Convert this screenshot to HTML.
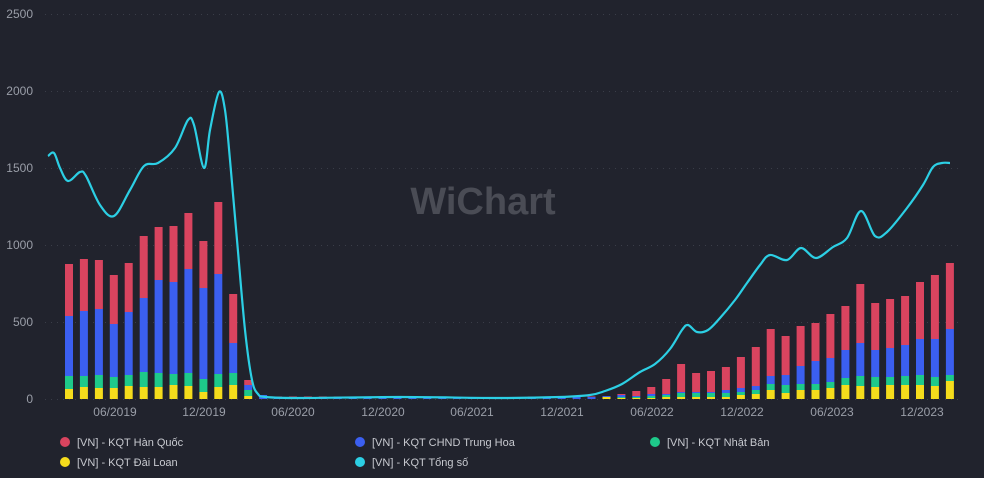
<!DOCTYPE html>
<html><head><meta charset="utf-8"><style>
html,body{margin:0;padding:0;background:#21232d;}
svg{display:block;font-family:"Liberation Sans",sans-serif;}
</style></head><body>
<svg id="s" width="984" height="478" viewBox="0 0 984 478">
<rect width="984" height="478" fill="#21232d"/>
<g stroke="#3a3d48" stroke-width="1" stroke-dasharray="1,5">
<line x1="45" x2="962" y1="14.5" y2="14.5"/><line x1="45" x2="962" y1="91.5" y2="91.5"/><line x1="45" x2="962" y1="168.5" y2="168.5"/><line x1="45" x2="962" y1="245.5" y2="245.5"/><line x1="45" x2="962" y1="322.5" y2="322.5"/><line x1="45" x2="962" y1="399.5" y2="399.5"/>
</g>
<g fill="#9a9ea8" font-size="12" text-anchor="end">
<text x="33" y="18">2500</text><text x="33" y="95">2000</text><text x="33" y="172">1500</text><text x="33" y="249">1000</text><text x="33" y="326">500</text><text x="33" y="403">0</text>
</g>
<g fill="#9a9ea8" font-size="12" text-anchor="middle">
<text x="115" y="416">06/2019</text><text x="204" y="416">12/2019</text><text x="293" y="416">06/2020</text><text x="383" y="416">12/2020</text><text x="472" y="416">06/2021</text><text x="562" y="416">12/2021</text><text x="652" y="416">06/2022</text><text x="742" y="416">12/2022</text><text x="832" y="416">06/2023</text><text x="922" y="416">12/2023</text>
</g>
<text x="483" y="214" text-anchor="middle" font-size="38" font-weight="bold" fill="#4a4c55">WiChart</text>
<g id="bars"></g>
<path id="ln" fill="none" stroke="#2ccfe4" stroke-width="2.2" stroke-linejoin="round"/>
<g font-size="11" fill="#c8cad0">
<circle cx="65" cy="442" r="5" fill="#d9445f"/><text x="77" y="446">[VN] - KQT Hàn Quốc</text>
<circle cx="360" cy="442" r="5" fill="#3b5ff0"/><text x="372" y="446">[VN] - KQT CHND Trung Hoa</text>
<circle cx="655" cy="442" r="5" fill="#1ec98a"/><text x="667" y="446">[VN] - KQT Nhật Bản</text>
<circle cx="65" cy="462" r="5" fill="#f5dc1c"/><text x="77" y="466">[VN] - KQT Đài Loan</text>
<circle cx="360" cy="462" r="5" fill="#2ccfe4"/><text x="372" y="466">[VN] - KQT Tổng số</text>
</g>
</svg>
<script>
var B=[[389,376,316,264],[387,376,311,259],[388,375,309,260],[388,377,324,275],[386,375,312,263],[387,372,298,236],[387,373,280,227],[385,374,282,226],[386,373,269,213],[392,379,288,241],[387,374,274,202],[385,373,343,294],[396,390,385,380],[399,399,395,395]];
for(var i=14;i<36;i++){var h=(i<20||i>30)?2:1.5;B.push([399,399,399-h,399-h-0.5]);}
B.push([397,397,396,396],[398,397,395,394],[398,397,396,391],[398,396,394,387],[397,395,394,379],[397,393,392,364],[397,393,392,373],[397,393,392,371],[397,393,390,367],[395,392,388,357],[394,390,386,347],[390,384,376,329],[393,385,375,336],[390,384,366,326],[390,384,361,323],[388,382,358,314],[385,378,350,306],[386,376,343,284],[387,377,350,303],[385,377,348,299],[385,376,345,296],[385,375,339,282],[386,377,339,275],[381,375,329,263]);
var C=["#f5dc1c","#1ec98a","#3b5ff0","#d9445f"],g="";
for(var i=0;i<B.length;i++){var x=69+i*14.93-4,b=B[i],prev=399;
 var top=b[3];
 for(var k=0;k<4;k++){var t=b[k];if(prev-t>0.2)g+='<rect x="'+x.toFixed(1)+'" y="'+t+'" width="8" height="'+(prev-t)+'" fill="'+C[k]+'"/>';prev=Math.min(prev,t);}
 if(399-top>0.5)g+='<rect x="'+(x+0.5).toFixed(1)+'" y="'+(top+0.5)+'" width="7" height="'+(399-top-0.5)+'" fill="none" stroke="#e6c9d0" stroke-width="1" opacity="0.8"/>';
}
document.getElementById("bars").innerHTML=g;
var P=[[48,156],[54,153],[60,168],[68,181],[80,172],[86,176],[100,205],[114,216],[130,190],[144,166],[158,163],[175,148],[188,120],[194,125],[204,168],[210,130],[219,92],[225,110],[230,160],[237,240],[245,330],[252,380],[258,394],[266,397],[300,398],[400,397],[500,398],[560,397],[590,395],[605,391],[622,384],[640,372],[655,364],[670,349],[682,330],[688,325],[697,332],[708,330],[720,318],[735,300],[747,283],[760,265],[770,255],[787,260],[801,248],[816,258],[833,247],[847,238],[861,211],[875,236],[887,232],[907,208],[923,185],[933,167],[942,163],[950,163]];
function sp(p){var d="M"+p[0][0]+","+p[0][1];for(var i=0;i<p.length-1;i++){var p0=p[i-1]||p[i],p1=p[i],p2=p[i+1],p3=p[i+2]||p2;var c1x=p1[0]+(p2[0]-p0[0])/6,c1y=p1[1]+(p2[1]-p0[1])/6,c2x=p2[0]-(p3[0]-p1[0])/6,c2y=p2[1]-(p3[1]-p1[1])/6;d+="C"+c1x.toFixed(1)+","+c1y.toFixed(1)+" "+c2x.toFixed(1)+","+c2y.toFixed(1)+" "+p2[0]+","+p2[1];}return d;}
document.getElementById("ln").setAttribute("d",sp(P));
</script>
</body></html>
